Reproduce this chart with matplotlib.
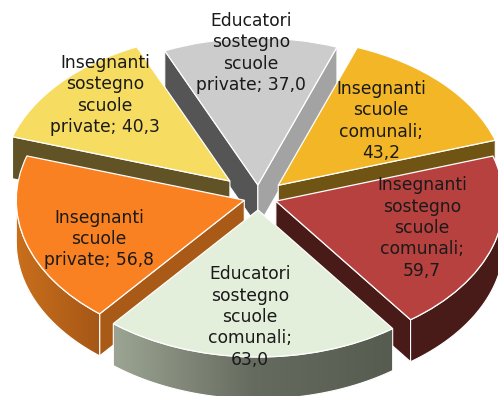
import numpy as np
import matplotlib
matplotlib.use('Agg')
import matplotlib.pyplot as plt
from matplotlib.colors import LinearSegmentedColormap
from matplotlib.patches import Polygon

categorie = ['Insegnanti\nscuole\ncomunali;\n',
             'Insegnanti\nsostegno\nscuole\ncomunali;\n',
             'Educatori\nsostegno\nscuole\ncomunali;\n',
             'Insegnanti\nscuole\nprivate; ',
             'Insegnanti\nsostegno\nscuole\nprivate; ',
             'Educatori\nsostegno\nscuole\nprivate; ']
valori = [43.2, 59.7, 63.0, 56.8, 40.3, 37.0]
esplosione = [0.12, 0.08, 0.085, 0.065, 0.168, 0.085]

colori = ['#F2B627', '#B7413F', '#E3EFDB', '#F98121', '#F6DC60', '#CCCCCC']
col_inizio = ['#705413', '#481B18', '#575C50', '#A95A16', '#615325', '#555555']
col_fine = ['#705413', '#481B18', '#9CA593', '#A95A16', '#615325', '#A3A3A3']
# colori del bordo esterno: sfumatura da sinistra a destra
sfumature = [None, None, ('#9CA593', '#666B5F', '#575C50'), ('#C96F1C', '#A65717'), None, None]
ordine = [5, 4, 0, 3, 1, 2]  # dal fondo verso il davanti
pos_testo = [(381, 121), (422, 228), (250, 317), (99, 239), (105, 95), (251, 53)]

W, H = 498, 396
RX, RY = 228.0, 147.0
CX, CY = 258.5, 197.5
SPESSORE = 42 / RY

fig = plt.figure(figsize=(W / 100, H / 100), dpi=100)
ax = fig.add_axes([0, 0, 1, 1])
wedges, _ = ax.pie(valori, explode=esplosione, colors=colori, startangle=69.7,
                   counterclock=False, radius=1,
                   wedgeprops={'edgecolor': 'white', 'linewidth': 0.9})
ax.set_aspect('auto')
limx = (-CX / RX, (W - CX) / RX)
limy = ((CY - H) / RY, CY / RY)


def punto(w, ang):
    a = np.radians(ang)
    return w.center[0] + w.r * np.cos(a), w.center[1] + w.r * np.sin(a)


def parete(p1, p2, colore, z):
    q = [p1, p2, (p2[0], p2[1] - SPESSORE), (p1[0], p1[1] - SPESSORE)]
    ax.add_patch(Polygon(q, closed=True, facecolor=colore, edgecolor='white',
                         linewidth=0.8, zorder=z))


for z, i in enumerate(ordine):
    w = wedges[i]
    w.set_zorder(z * 3 + 3)
    c = (w.center[0], w.center[1])
    # solo le pareti rivolte verso chi guarda
    if np.cos(np.radians(w.theta2)) < 0:
        parete(c, punto(w, w.theta2), col_inizio[i], z * 3 + 1)
    if np.cos(np.radians(w.theta1)) > 0:
        parete(c, punto(w, w.theta1), col_fine[i], z * 3 + 1)

    # bordo esterno, solo la meta' davanti
    ang = np.linspace(w.theta1, w.theta2, 120)
    ang = ang[np.sin(np.radians(ang)) <= 0]
    if len(ang) == 0:
        continue
    sopra = np.array([punto(w, a) for a in ang])
    sotto = sopra - [0, SPESSORE]
    q = np.vstack([sopra, sotto[::-1]])
    if sfumature[i] is None:
        ax.add_patch(Polygon(q, closed=True, facecolor=col_inizio[i], edgecolor='white',
                             linewidth=0.8, zorder=z * 3 + 2))
    else:
        pol = Polygon(q, closed=True, facecolor='none', edgecolor='white',
                      linewidth=0.8, zorder=z * 3 + 2.1)
        ax.add_patch(pol)
        cm = LinearSegmentedColormap.from_list('s', sfumature[i])
        im = ax.imshow(np.linspace(0, 1, 256).reshape(1, -1), cmap=cm, aspect='auto',
                       extent=(q[:, 0].min(), q[:, 0].max(), q[:, 1].min(), q[:, 1].max()),
                       zorder=z * 3 + 2)
        im.set_clip_path(pol)

ax.set_xlim(limx)
ax.set_ylim(limy)

for i in range(len(valori)):
    testo = categorie[i] + str(valori[i]).replace('.', ',')
    x, y = pos_testo[i]
    fig.text(x / W, 1 - y / H, testo, ha='center', va='center', multialignment='center',
             fontsize=12.3, color='#1A1A1A', linespacing=1.24, zorder=50)

fig.savefig('out.png', dpi=100)
